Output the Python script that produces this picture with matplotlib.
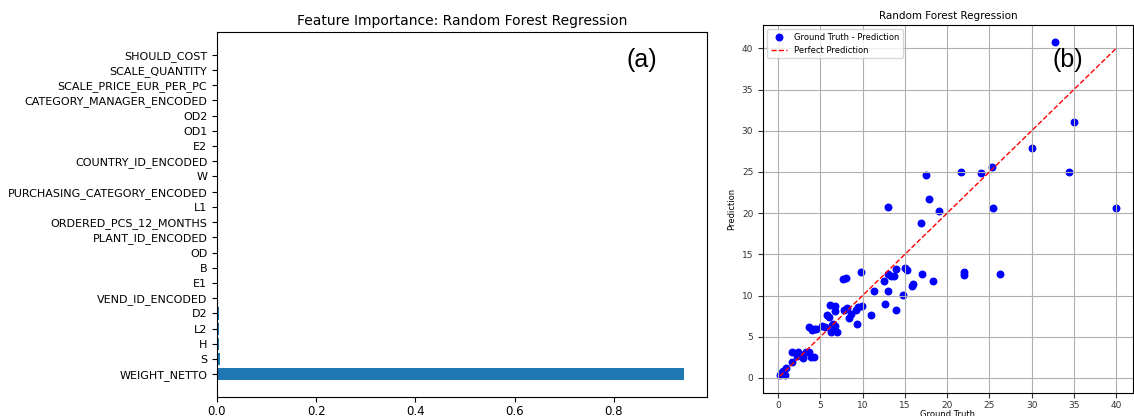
import matplotlib.pyplot as plt

# Feature importances (sorted, smallest on top)
features = ["WEIGHT_NETTO", "S", "H", "L2", "D2", "VEND_ID_ENCODED", "E1", "B", "OD",
            "PLANT_ID_ENCODED", "ORDERED_PCS_12_MONTHS", "L1", "PURCHASING_CATEGORY_ENCODED",
            "W", "COUNTRY_ID_ENCODED", "E2", "OD1", "OD2", "CATEGORY_MANAGER_ENCODED",
            "SCALE_PRICE_EUR_PER_PC", "SCALE_QUANTITY", "SHOULD_COST"]
importances = [0.941, 0.0055, 0.0045, 0.0042, 0.0040, 0.0025, 0.0028, 0.0027, 0.0012,
               0.0010, 0.0009, 0.0008, 0.0007, 0.0006, 0.0005, 0.0004, 0.0003, 0.0003,
               0.0002, 0.0001, 0.0001, 0.0000]
importance_ticks = [0.0, 0.2, 0.4, 0.6, 0.8]

# Test set: ground truth vs predicted values
ground_truth = [32.8, 35.0, 30.0, 34.4, 25.3, 24.0, 21.6, 17.5, 17.9, 19.0, 16.9, 13.0, 25.4,
                40.0, 26.2, 22.0, 22.0, 18.3, 17.0, 16.0, 15.8, 15.0, 15.2, 13.9, 13.7, 13.3,
                13.0, 12.5, 13.0, 14.8, 11.35, 12.6, 13.9, 11.0, 9.8, 7.7, 8.0, 9.9, 9.5, 9.2,
                9.3, 8.6, 8.4, 8.1, 7.8, 6.1, 6.7, 6.7, 5.75, 6.0, 6.5, 6.7, 6.3, 7.0, 6.4,
                5.2, 5.5, 4.5, 4.3, 3.7, 4.0, 1.6, 2.4, 3.3, 3.6, 2.8, 2.2, 2.9, 3.9, 4.3,
                1.7, 0.9, 0.6, 0.4, 0.2, 0.8, 0.3]
prediction = [40.8, 31.0, 27.9, 25.0, 25.6, 24.9, 25.0, 24.6, 21.7, 20.2, 18.8, 20.8, 20.6,
              20.6, 12.6, 12.9, 12.5, 11.75, 12.6, 11.4, 11.1, 13.3, 13.1, 13.25, 12.4, 12.4,
              12.6, 11.8, 10.6, 10.1, 10.5, 9.0, 8.3, 7.6, 12.9, 12.0, 12.1, 8.7, 8.6, 8.3,
              6.6, 7.7, 7.25, 8.5, 8.3, 8.9, 8.7, 8.1, 7.6, 7.4, 6.6, 6.3, 5.55, 5.6, 6.4,
              6.3, 6.2, 5.95, 5.9, 6.2, 5.8, 3.2, 3.2, 3.2, 3.2, 2.8, 2.6, 2.4, 2.5, 2.5,
              1.95, 1.2, 0.85, 0.5, 0.35, 0.35, 0.6]
perfect = [0.2, 40.0]

fig = plt.figure(figsize=(11.34, 4.16), dpi=100)

# (a) feature importance
ax1 = fig.add_axes([217 / 1134, 19 / 416, 490 / 1134, 365 / 416])
ax1.barh(range(len(features)), importances, color="tab:blue")
ax1.set_yticks(range(len(features)), features, fontsize=8)
ax1.set_xticks(importance_ticks, [f"{t:.1f}" for t in importance_ticks], fontsize=8.5)
ax1.tick_params(axis="x", pad=2)
ax1.set_title("Feature Importance: Random Forest Regression", fontsize=10, pad=5)
ax1.text(0.867, 0.923, "(a)", transform=ax1.transAxes, fontsize=18,
         family="Liberation Sans", ha="center", va="center")

# (b) predicted vs actual
ax2 = fig.add_axes([763 / 1134, 23 / 416, 370 / 1134, 368 / 416])
ax2.scatter(ground_truth, prediction, color="blue", s=22, label="Ground Truth - Prediction")
ax2.plot(perfect, perfect, "r--", lw=1, label="Perfect Prediction")
ax2.set_title("Random Forest Regression", fontsize=7.5, pad=4)
ax2.set_xlabel("Ground Truth", fontsize=6, labelpad=0)
ax2.set_ylabel("Prediction", fontsize=6)
ax2.tick_params(labelsize=6.5, colors="#333333")
ax2.tick_params(axis="x", pad=2)
ax2.grid(True)
ax2.legend(loc="upper left", fontsize=6)
ax2.text(0.824, 0.905, "(b)", transform=ax2.transAxes, fontsize=18,
         family="Liberation Sans", ha="center", va="center")

fig.savefig("out.png", dpi=100)
